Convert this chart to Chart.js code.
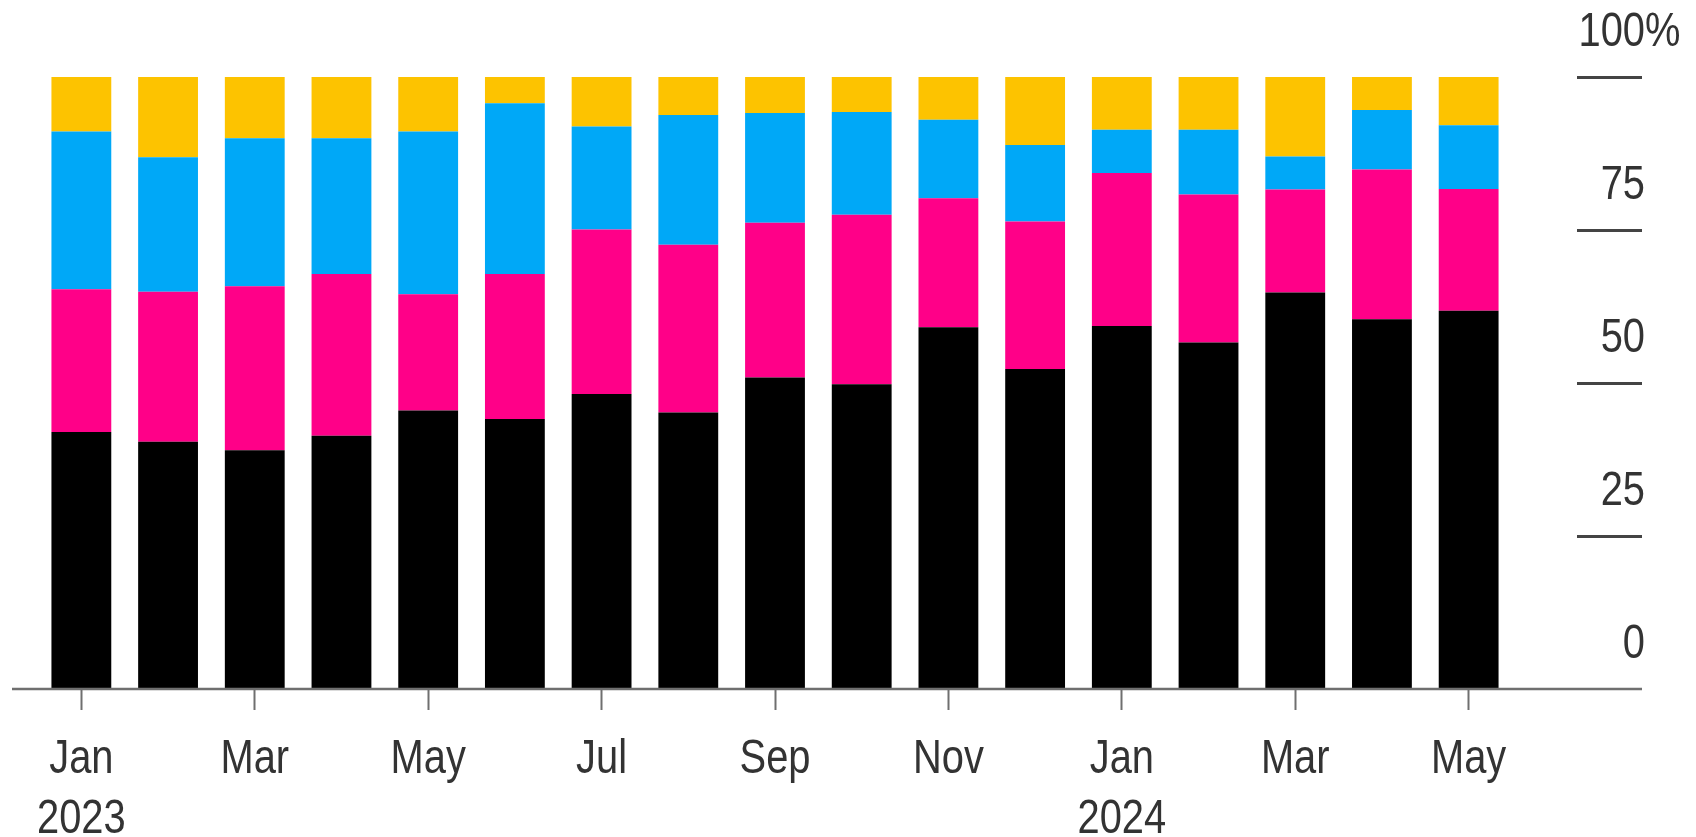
<!DOCTYPE html>
<html>
<head>
<meta charset="utf-8">
<script src="https://cdn.jsdelivr.net/npm/chart.js@4.4.1/dist/chart.umd.min.js"></script>
<style>
  html, body { margin: 0; padding: 0; background: #ffffff; }
  #wrap { width: 1696px; height: 837px; position: relative; }
</style>
</head>
<body>
<div id="wrap"><canvas id="shareChart"></canvas></div>
<script>
// months Jan 2023 .. May 2024
const months = ['Jan', 'Feb', 'Mar', 'Apr', 'May', 'Jun', 'Jul', 'Aug', 'Sep', 'Oct', 'Nov', 'Dec',
                'Jan', 'Feb', 'Mar', 'Apr', 'May'];
const years = { 0: '2023', 12: '2024' };

// shares in %, bottom to top
const blackShare   = [42.0, 40.4, 39.0, 41.4, 45.5, 44.1, 48.2, 45.2, 50.9, 49.8, 59.1, 52.3, 59.3, 56.6, 64.8, 60.4, 61.8];
const magentaShare = [23.3, 24.5, 26.8, 26.4, 19.0, 23.7, 26.9, 27.4, 25.3, 27.7, 21.1, 24.1, 25.0, 24.2, 16.8, 24.5, 19.9];
const blueShare    = [25.8, 22.0, 24.2, 22.2, 26.6, 27.9, 16.8, 21.2, 17.9, 16.8, 12.8, 12.5, 7.1, 10.6, 5.4, 9.7, 10.4];
const yellowShare  = [8.9, 13.1, 10.0, 10.0, 8.9, 4.3, 8.1, 6.2, 5.9, 5.7, 7.0, 11.1, 8.6, 8.6, 13.0, 5.4, 7.9];

const yTicks = [0, 25, 50, 75, 100];

const FONT = "'Liberation Sans', Arial, sans-serif";
const TEXT_COLOR = '#333333';
const AXIS_COLOR = '#6f6f6f';
const SQUEEZE = 0.83;   // the source lettering is tall and narrow

function barSet(label, data, color) {
    return {
        label: label,
        data: data,
        backgroundColor: color,
        borderWidth: 0,
        barPercentage: 0.69,
        categoryPercentage: 1.0
    };
}

function squeezedText(ctx, text, x, y, align) {
    ctx.save();
    ctx.translate(x, y);
    ctx.scale(SQUEEZE, 1);
    ctx.textAlign = align;
    ctx.fillText(text, 0, 0);
    ctx.restore();
}

// baseline running past the bars, plus the tick labels in narrow lettering
const axisDecor = {
    id: 'axisDecor',
    afterDraw(chart) {
        const { ctx } = chart;
        const x = chart.scales.x;
        const y = chart.scales.y;
        const y0 = y.getPixelForValue(0);
        const xRight = y.left + y.options.grid.tickLength;
        ctx.save();
        ctx.strokeStyle = AXIS_COLOR;
        ctx.lineWidth = 2.5;
        ctx.beginPath();
        ctx.moveTo(12, y0);
        ctx.lineTo(xRight, y0);
        ctx.stroke();

        ctx.fillStyle = TEXT_COLOR;
        ctx.font = '48px ' + FONT;
        ctx.textBaseline = 'alphabetic';
        y.ticks.forEach(t => {
            const py = y.getPixelForValue(t.value) - 31;
            squeezedText(ctx, String(t.value), xRight + 3, py, 'right');
            if (t.value === 100) squeezedText(ctx, '%', xRight + 3, py, 'left');
        });

        x.ticks.forEach((t, i) => {
            const lines = [].concat(t.label || []);
            const px = x.getPixelForTick(i);
            lines.forEach((line, k) => {
                if (line) squeezedText(ctx, line, px, y0 + 84 + k * 60, 'center');
            });
        });
        ctx.restore();
    }
};

new Chart(document.getElementById('shareChart'), {
    type: 'bar',
    data: {
        labels: months,
        datasets: [
            barSet('Black', blackShare, '#000000'),
            barSet('Magenta', magentaShare, '#ff0088'),
            barSet('Blue', blueShare, '#00a8f7'),
            barSet('Yellow', yellowShare, '#fdc300')
        ]
    },
    plugins: [axisDecor],
    options: {
        responsive: true,
        maintainAspectRatio: false,
        animation: false,
        devicePixelRatio: 1,
        layout: { padding: { left: 38, right: 54, top: 77, bottom: 0 } },
        plugins: {
            legend: { display: false },
            tooltip: { enabled: false }
        },
        scales: {
            x: {
                stacked: true,
                border: { display: false },
                grid: {
                    offset: false,
                    drawOnChartArea: false,
                    drawTicks: true,
                    tickLength: 21,
                    tickWidth: 2,
                    tickColor: ctx => (ctx.index % 2 === 0 ? AXIS_COLOR : 'rgba(0,0,0,0)')
                },
                ticks: {
                    display: false,
                    autoSkip: false,
                    callback: function(value, index) {
                        if (index % 2 !== 0) return '';
                        return years[index] ? [months[index], years[index]] : months[index];
                    }
                },
                afterFit: scale => { scale.height = 148; }
            },
            y: {
                stacked: true,
                position: 'right',
                min: 0,
                max: 100,
                afterBuildTicks: scale => { scale.ticks = yTicks.map(v => ({ value: v })); },
                border: { display: false },
                grid: {
                    drawOnChartArea: false,
                    drawTicks: true,
                    tickLength: 130,
                    tickWidth: 3,
                    // the zero mark is covered by the baseline
                    tickColor: ctx => (ctx.tick && ctx.tick.value === 0 ? 'rgba(0,0,0,0)' : '#444444'),
                    tickBorderDash: [0, 65, 65, 300]
                },
                ticks: { display: false }
            }
        }
    }
});
</script>
</body>
</html>
